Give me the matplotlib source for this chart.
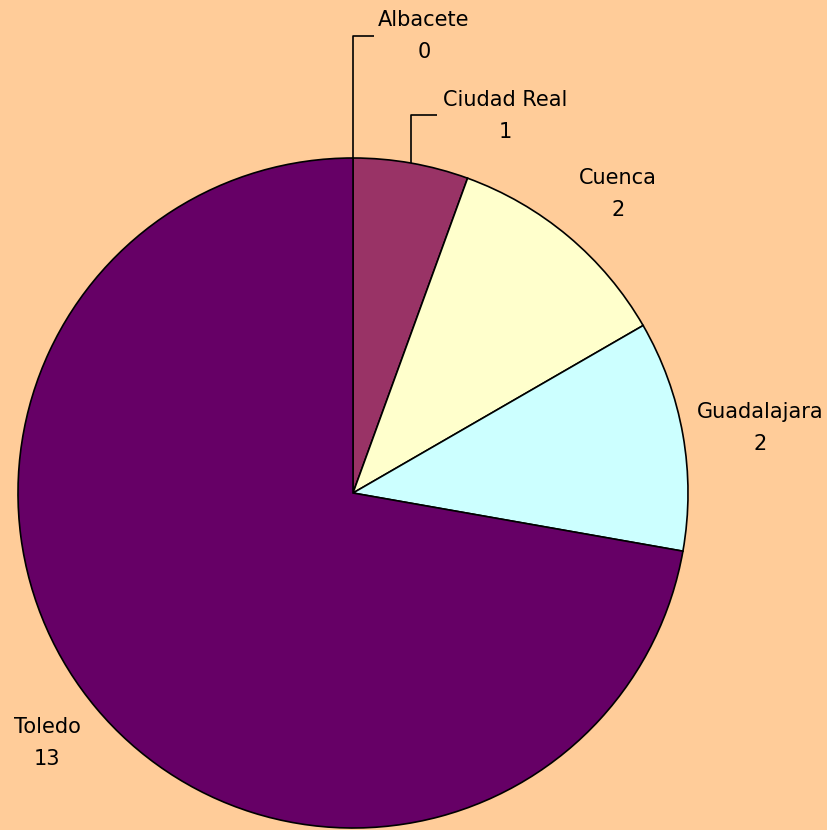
import numpy as np
import matplotlib
matplotlib.use("Agg")
import matplotlib.pyplot as plt

provinces = ["Albacete", "Ciudad Real", "Cuenca", "Guadalajara", "Toledo"]
counts = [0, 1, 2, 2, 13]
colors = ["#FFFFFF", "#993366", "#FFFFCC", "#CCFFFF", "#660066"]

W, H = 827, 830
bg = "#FFCC99"
fig = plt.figure(figsize=(W / 100, H / 100), dpi=100, facecolor=bg)
ax = fig.add_axes([0, 0, 1, 1])
ax.set_facecolor(bg)

cx, cy, r = 353, H - 493, 335
wedges, _ = ax.pie(counts, colors=colors, startangle=90, counterclock=False,
                   center=(cx, cy), radius=r, frame=True,
                   wedgeprops=dict(edgecolor="black", linewidth=1.2))
ax.set_xlim(0, W)
ax.set_ylim(0, H)
ax.set_aspect("equal")
ax.axis("off")

# label positions (x, y of name line) in pixel space, top-left origin
label_pos = {
    "Albacete": (424, 20),
    "Ciudad Real": (505, 100),
    "Cuenca": (618, 178),
    "Guadalajara": (760, 412),
    "Toledo": (47, 727),
}
fs = 15
for w, name, val in zip(wedges, provinces, counts):
    lx, ly = label_pos[name]
    ax.text(lx, H - ly, name, ha="center", va="center", fontsize=fs,
            family="DejaVu Sans", color="black")
    ax.text(lx, H - ly - 32, str(val), ha="center", va="center", fontsize=fs,
            family="DejaVu Sans", color="black")

# leader lines for the two narrow slices at the top
mid = [np.deg2rad((w.theta1 + w.theta2) / 2) for w in wedges]
leaders = {"Albacete": (36, 374), "Ciudad Real": (115, 437)}
for w, name, a in zip(wedges, provinces, mid):
    if name in leaders:
        top_y, end_x = leaders[name]
        sx = cx + r * np.cos(a)
        sy = cy + r * np.sin(a)
        ax.plot([sx, sx, end_x], [sy, H - top_y, H - top_y],
                color="black", linewidth=1.2, solid_capstyle="butt")

fig.savefig("out.png", dpi=100, facecolor=bg)
